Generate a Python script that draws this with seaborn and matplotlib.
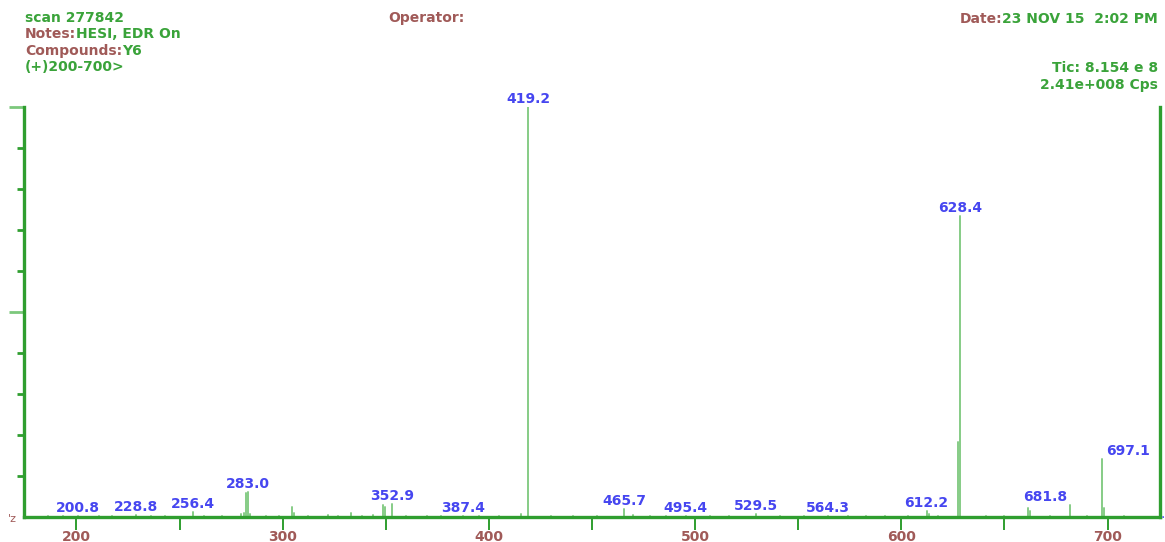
import matplotlib
matplotlib.use("Agg")
import matplotlib.pyplot as plt
import pandas as pd
import seaborn as sns

# ---- spectrum data (m/z, relative intensity %) ----
labeled_mz = [200.8, 228.8, 256.4, 283.0, 352.9, 387.4, 419.2, 465.7,
              495.4, 529.5, 564.3, 612.2, 628.4, 681.8, 697.1]
labeled_int = [0.3, 0.5, 1.2, 6.0, 3.2, 0.2, 100.0, 2.0,
               0.3, 0.8, 0.3, 1.5, 73.4, 3.0, 14.1]

minor_mz = [279.8, 281.2, 282.0, 284.2, 304.6, 305.4, 321.8, 333.0, 344.0,
            348.6, 349.6, 370.0, 415.6, 470.0, 613.2, 627.6, 661.6, 662.6,
            698.1]
minor_int = [0.8, 1.0, 5.8, 0.8, 2.5, 1.0, 0.4, 1.0, 0.4,
             3.0, 2.4, 0.3, 0.8, 0.4, 0.8, 18.3, 2.2, 1.5,
             2.2]

# low-level baseline signals
noise_mz = [186.0, 193.5, 211.0, 217.5, 236.0, 243.0, 262.0, 270.5, 292.0,
            298.0, 312.5, 327.0, 338.5, 360.0, 377.0, 395.0, 405.0, 430.0,
            441.0, 452.5, 478.0, 486.0, 507.0, 516.5, 541.0, 553.0, 574.0,
            583.0, 592.0, 603.0, 618.0, 641.0, 650.0, 672.0, 690.0, 708.0]
noise_int = [0.3, 0.2, 0.3, 0.2, 0.3, 0.2, 0.3, 0.2, 0.3,
             0.2, 0.3, 0.2, 0.3, 0.3, 0.2, 0.3, 0.2, 0.3,
             0.2, 0.3, 0.2, 0.3, 0.2, 0.3, 0.2, 0.3, 0.2,
             0.3, 0.2, 0.3, 0.2, 0.3, 0.2, 0.3, 0.2, 0.2]

x_major = [200, 300, 400, 500, 600, 700]
x_minor = [250, 350, 450, 550, 650]

AX_GREEN = "#2f9e2f"
PEAK_GREEN = "#86cc86"
TXT_GREEN = "#3aa33a"
TXT_BROWN = "#a05a58"
LBL_BLUE = "#4646f0"

sns.set_theme(style="white")
plt.rcParams["font.family"] = ["DejaVu Sans"]

W, H = 1165, 542
fig = plt.figure(figsize=(W / 100, H / 100), dpi=100)
ax = fig.add_axes([24 / W, 25 / H, (1160 - 24) / W, (517 - 107) / H])

# stick spectrum: one two-point line per peak
all_mz = labeled_mz + minor_mz + noise_mz
all_int = labeled_int + minor_int + noise_int
rows = []
for i, (m, h) in enumerate(zip(all_mz, all_int)):
    rows.append({"peak": i, "mz": m, "intensity": 0.0})
    rows.append({"peak": i, "mz": m, "intensity": h})
df = pd.DataFrame(rows)
sns.lineplot(data=df, x="mz", y="intensity", units="peak", estimator=None,
             sort=False, color=PEAK_GREEN, lw=1.4, ax=ax, legend=False)

ax.set_xlim(174.6, 725.4)
ax.set_ylim(0, 100)
ax.set_xlabel("")
ax.set_ylabel("")

for side in ["left", "bottom", "right"]:
    ax.spines[side].set_visible(True)
    ax.spines[side].set_color(AX_GREEN)
    ax.spines[side].set_linewidth(2.4)
ax.spines["top"].set_visible(False)

ax.set_xticks(x_major)
ax.set_xticks(x_minor, minor=True)
ax.set_xticklabels([str(v) for v in x_major], fontweight="bold")
ax.tick_params(axis="x", which="both", direction="out", length=9, width=1.4,
               color=AX_GREEN, bottom=True, pad=0.5, labelsize=10,
               labelcolor=TXT_BROWN)

ax.set_yticks([50, 100])
ax.set_yticks([10, 20, 30, 40, 60, 70, 80, 90], minor=True)
ax.set_yticklabels([])
ax.tick_params(axis="y", which="major", direction="out", length=11, width=2,
               color="#7cc87c", left=True)
ax.tick_params(axis="y", which="minor", direction="out", length=5, width=2,
               color=AX_GREEN, left=True)

# peak labels
nudge = {681.8: -25, 697.1: 26}
for m, h in zip(labeled_mz, labeled_int):
    ax.annotate(f"{m:.1f}", xy=(m, h), xytext=(nudge.get(m, 0), 8),
                textcoords="offset pixels", ha="center", va="center",
                fontsize=10, fontweight="bold", color=LBL_BLUE,
                annotation_clip=False)


def fx(px):
    return px / W


def fy(py):
    return 1 - py / H


# header block
fs = 10
hdr = dict(fontsize=fs, fontweight="bold", va="center")


def suffix(anchor, text, color, side="right"):
    # append a differently coloured run of text next to an existing one
    if side == "right":
        ax.annotate(text, xy=(1, 0.5), xycoords=anchor, ha="left",
                    color=color, annotation_clip=False, **hdr)
    else:
        ax.annotate(text, xy=(0, 0.5), xycoords=anchor, ha="right",
                    color=color, annotation_clip=False, **hdr)


fig.text(fx(25), fy(18), "scan 277842", color=TXT_GREEN, **hdr)
t = fig.text(fx(25), fy(34), "Notes:", color=TXT_BROWN, **hdr)
suffix(t, "HESI, EDR On", TXT_GREEN)
t = fig.text(fx(25), fy(51), "Compounds:", color=TXT_BROWN, **hdr)
suffix(t, "Y6", TXT_GREEN)
fig.text(fx(25), fy(67), "(+)200-700>", color=TXT_GREEN, **hdr)

fig.text(fx(388), fy(18), "Operator:", color=TXT_BROWN, **hdr)

t = fig.text(fx(1158), fy(19), "23 NOV 15  2:02 PM", color=TXT_GREEN,
             ha="right", **hdr)
suffix(t, "Date:", TXT_BROWN, side="left")
fig.text(fx(1158), fy(68), "Tic: 8.154 e 8", color=TXT_GREEN, ha="right", **hdr)
fig.text(fx(1158), fy(85), "2.41e+008 Cps", color=TXT_GREEN, ha="right", **hdr)

fig.text(fx(8), fy(519), "'z", color=TXT_BROWN, fontsize=8, va="center")
fig.text(fx(1161), fy(514), ".", color=LBL_BLUE, fontsize=10, va="center")

fig.savefig("out.png", dpi=100)
